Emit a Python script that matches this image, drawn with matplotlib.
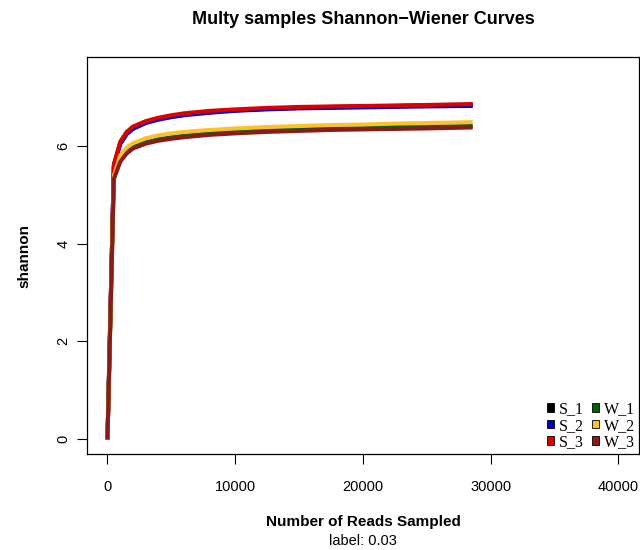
import matplotlib
matplotlib.use("Agg")
import matplotlib.pyplot as plt
from matplotlib.patches import Patch

plt.rcParams['font.family'] = ['Liberation Sans', 'DejaVu Sans']

# rarefaction depth (reads sampled)
reads = [0, 500, 1000, 1500, 2000, 3000, 4000, 5000, 6000, 8000, 10000,
         12500, 15000, 17500, 20000, 22500, 25000, 28600]

S_1 = [0, 5.60, 6.05, 6.25, 6.36, 6.48, 6.55, 6.60, 6.64, 6.69, 6.72,
       6.75, 6.77, 6.79, 6.80, 6.81, 6.82, 6.83]
S_2 = [0, 5.58, 6.03, 6.23, 6.34, 6.46, 6.53, 6.58, 6.62, 6.67, 6.71,
       6.74, 6.76, 6.77, 6.78, 6.79, 6.80, 6.81]
S_3 = [0, 5.62, 6.08, 6.28, 6.39, 6.50, 6.57, 6.62, 6.66, 6.71, 6.74,
       6.77, 6.79, 6.80, 6.81, 6.82, 6.83, 6.85]
W_1 = [0, 5.33, 5.70, 5.87, 5.97, 6.07, 6.13, 6.17, 6.20, 6.25, 6.28,
       6.31, 6.33, 6.35, 6.36, 6.38, 6.39, 6.40]
W_2 = [0, 5.38, 5.80, 5.96, 6.05, 6.15, 6.21, 6.25, 6.28, 6.32, 6.35,
       6.38, 6.40, 6.42, 6.43, 6.45, 6.46, 6.48]
W_3 = [0, 5.32, 5.67, 5.84, 5.94, 6.04, 6.10, 6.14, 6.17, 6.22, 6.25,
       6.28, 6.30, 6.32, 6.33, 6.34, 6.35, 6.37]

names = ["S_1", "S_2", "S_3", "W_1", "W_2", "W_3"]
series = [S_1, S_2, S_3, W_1, W_2, W_3]
colors = ["#000000", "#0000CD", "#DD0000", "#006400", "#FFC125", "#8B1A1A"]

fig = plt.figure(figsize=(6.4, 5.5), dpi=100)
ax = fig.add_axes([0.136, 0.1745, 0.862, 0.721])

for vals, c in zip(series, colors):
    ax.plot(reads, vals, color=c, lw=2.9, solid_capstyle='butt',
            solid_joinstyle='round')

ax.set_xlim(-1600, 41600)
ax.set_ylim(-0.3, 7.8)
ax.set_xticks([0, 10000, 20000, 30000, 40000])
ax.set_yticks([0, 2, 4, 6])
ax.tick_params(direction='out', length=7, width=0.8, labelsize=10.5)
ax.tick_params(axis='x', pad=12)
ax.tick_params(axis='y', pad=5)
for lab in ax.get_yticklabels():
    lab.set_rotation(90)
    lab.set_va('center')
for s in ax.spines.values():
    s.set_linewidth(0.9)

ax.set_title("Multy samples Shannon\u2212Wiener Curves", fontsize=13,
             fontweight='bold', pad=24)
ax.set_ylabel("shannon", fontsize=11, fontweight='bold', labelpad=18)
fig.text(0.5675, 1 - 522 / 550, "Number of Reads Sampled", ha='center',
         va='center', fontsize=11, fontweight='bold')
fig.text(0.5675, 1 - 541 / 550, "label: 0.03", ha='center', va='center',
         fontsize=10.5)

handles = [Patch(facecolor=c, edgecolor='black', linewidth=0.6) for c in colors]
ax.legend(handles, names, ncol=2, loc='lower right', frameon=False,
          bbox_to_anchor=(1.0, 0.0),
          prop={'family': 'Liberation Serif', 'size': 11.5},
          handlelength=0.45, handleheight=0.45, handletextpad=0.3,
          columnspacing=0.5, labelspacing=0.02, borderaxespad=0.05,
          borderpad=0.2)

fig.savefig("out.png", dpi=100)
